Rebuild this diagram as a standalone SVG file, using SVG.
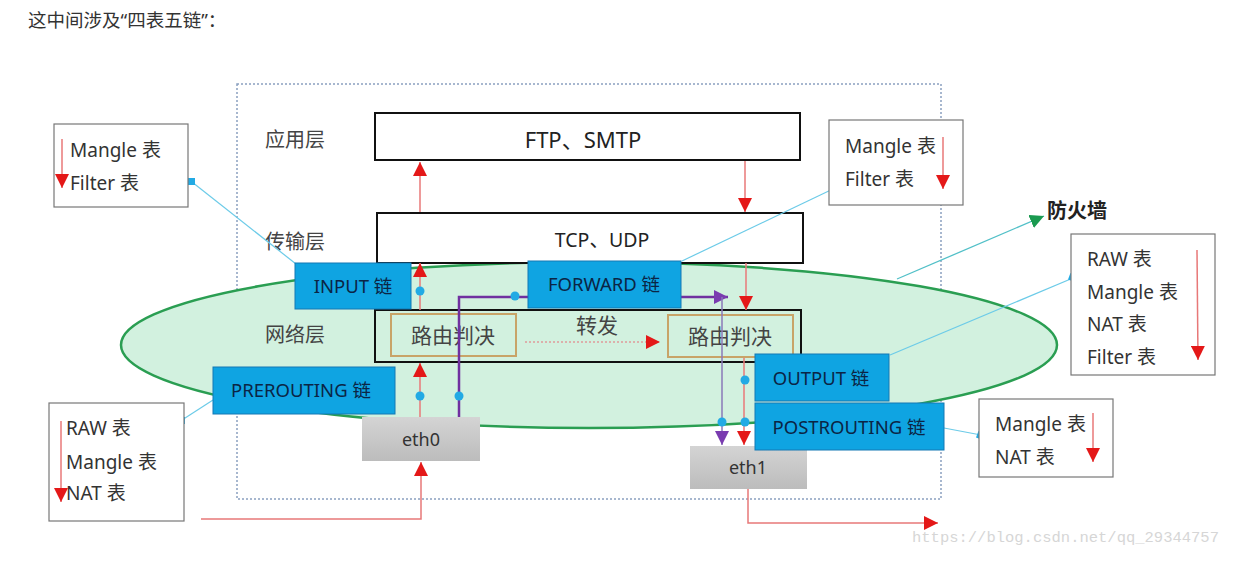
<svg xmlns="http://www.w3.org/2000/svg" width="1242" height="576" viewBox="0 0 1242 576">
<defs>
<style>
.t{font-family:"Noto Sans","Liberation Sans","Noto Sans CJK SC",sans-serif;fill:#333;font-size:19px}
.lay{font-family:"Noto Sans CJK SC","Noto Sans",sans-serif;fill:#444;font-size:20px}
.chain{fill:#0fa4e2;stroke:#1478b4;stroke-width:1}
.ct{font-family:"Noto Sans","Liberation Sans","Noto Sans CJK SC",sans-serif;fill:#0b2545;font-size:18.5px;text-anchor:middle}
.tbl{fill:#fff;stroke:#777;stroke-width:1.2}
.blk{fill:#fff;stroke:#111;stroke-width:2}
.route{fill:none;stroke:#c8a468;stroke-width:2}
.rt{font-family:"Noto Sans CJK SC",sans-serif;fill:#444;font-size:21px;text-anchor:middle}
.red{stroke:#e87878;stroke-width:1.5;fill:none}
.pur{stroke:#7030a0;stroke-width:2.5;fill:none}
.conn{stroke:#6ccbe8;stroke-width:1.2;fill:none}
.dot{fill:#22aae4}
.eth{fill:url(#g)}
</style>
<linearGradient id="g" x1="0" y1="0" x2="0" y2="1"><stop offset="0" stop-color="#d4d4d4"/><stop offset="1" stop-color="#bcbcbc"/></linearGradient>
<marker id="ar" markerUnits="userSpaceOnUse" markerWidth="14" markerHeight="14" viewBox="0 0 10 10" refX="10" refY="5" orient="auto"><path d="M0,0 L10,5 L0,10 z" fill="#e41818"/></marker>
<marker id="ap" markerUnits="userSpaceOnUse" markerWidth="14" markerHeight="14" viewBox="0 0 10 10" refX="10" refY="5" orient="auto"><path d="M0,0 L10,5 L0,10 z" fill="#7a3cb0"/></marker>
<marker id="ag" markerUnits="userSpaceOnUse" markerWidth="14" markerHeight="14" viewBox="0 0 10 10" refX="10" refY="5" orient="auto"><path d="M0,0 L10,5 L0,10 z" fill="#1a9a50"/></marker>
</defs>
<rect width="1242" height="576" fill="#fff"/>
<text x="28" y="27" style="font-family:'Noto Sans','Noto Sans CJK SC',sans-serif;font-size:18.5px;fill:#333">这中间涉及“四表五链”：</text>

<rect x="237" y="84" width="704" height="415" fill="none" stroke="#8aa0c0" stroke-width="1.5" stroke-dasharray="2,2"/>

<g id="firewall-ellipse"><ellipse cx="589" cy="345" rx="468" ry="83" fill="#d2f1df" stroke="#2a9e52" stroke-width="2.5"/></g>

<g id="layers">
<text x="265" y="147" class="lay">应用层</text>
<text x="265" y="249" class="lay">传输层</text>
<text x="265" y="342" class="lay">网络层</text>
</g>

<g id="ftp"><rect x="375" y="113" width="425" height="47" class="blk"/><text x="583" y="148" class="ct" style="fill:#222;font-size:22px">FTP、SMTP</text></g>
<g id="tcp"><rect x="377" y="213" width="426" height="50" class="blk"/><text x="602" y="247" class="ct" style="fill:#222;font-size:19.5px">TCP、UDP</text></g>
<g id="network"><rect x="375" y="310" width="426" height="52" fill="none" stroke="#111" stroke-width="2"/>
<text x="597" y="333" class="rt">转发</text></g>
<g id="route1"><rect x="391" y="314" width="125" height="42" class="route"/><text x="453" y="343" class="rt">路由判决</text></g>
<g id="route2"><rect x="668" y="315" width="125" height="42" class="route"/><text x="730" y="344" class="rt">路由判决</text></g>

<g id="eth0"><rect x="362" y="417" width="118" height="44" class="eth"/><text x="421" y="446" class="ct" style="fill:#333;font-size:18px">eth0</text></g>
<g id="eth1"><rect x="690" y="446" width="117" height="43" class="eth"/><text x="748" y="474" class="ct" style="fill:#333;font-size:18px">eth1</text></g>

<g id="connectors">
<line x1="525" y1="342" x2="660" y2="342" stroke="#e09a9a" stroke-width="1.3" stroke-dasharray="2,2" marker-end="url(#ar)"/>
<polyline points="201,519 421,519 421,462" class="red" marker-end="url(#ar)"/>
<line x1="420" y1="417" x2="420" y2="363" class="red" marker-end="url(#ar)"/>
<line x1="420" y1="310" x2="420" y2="263" class="red" marker-end="url(#ar)"/>
<line x1="420" y1="212" x2="420" y2="162" class="red" marker-end="url(#ar)"/>
<line x1="745" y1="161" x2="745" y2="212" class="red" marker-end="url(#ar)"/>
<line x1="746" y1="263" x2="746" y2="310" class="red" marker-end="url(#ar)"/>
<line x1="744" y1="358" x2="744" y2="445" class="red" marker-end="url(#ar)"/>
<polyline points="748,489 748,523 938,523" class="red" marker-end="url(#ar)"/>
<polyline points="459,417 459,297 728,297" class="pur" marker-end="url(#ap)"/>
<line x1="722" y1="297" x2="722" y2="445" stroke="#8a78b8" stroke-width="1.5" marker-end="url(#ap)"/>
<circle cx="420" cy="291" r="4.5" class="dot"/>
<circle cx="420" cy="396" r="4.5" class="dot"/>
<circle cx="459" cy="396" r="4.5" class="dot"/>
<circle cx="515" cy="296" r="4.5" class="dot"/>
<circle cx="745" cy="380" r="4.5" class="dot"/>
<circle cx="745" cy="422" r="4.5" class="dot"/>
<circle cx="722" cy="422" r="4.5" class="dot"/>
<line x1="192" y1="182" x2="296" y2="264" class="conn"/>
<rect x="188" y="178" width="7" height="7" fill="#22aae4"/>
<line x1="682" y1="261" x2="835" y2="188" class="conn"/>
<rect x="831" y="184" width="7" height="7" fill="#22aae4" transform="rotate(20 834.5 187.5)"/>
<line x1="890" y1="355" x2="1073" y2="278" class="conn"/>
<rect x="1069" y="274" width="7" height="7" fill="#22aae4" transform="rotate(20 1072.5 277.5)"/>
<line x1="213" y1="400" x2="182" y2="420" class="conn"/>
<rect x="178" y="417" width="7" height="7" fill="#22aae4"/>
<line x1="944" y1="428" x2="981" y2="435" class="conn"/>
<rect x="977" y="432" width="7" height="7" fill="#22aae4" transform="rotate(20 980.5 435.5)"/>
<line x1="897" y1="279" x2="1044" y2="216" stroke="#52c0c8" stroke-width="1.3" marker-end="url(#ag)"/>
</g>

<g id="input-chain"><rect x="295" y="263" width="116" height="46" class="chain"/><text x="353" y="293" class="ct">INPUT 链</text></g>
<g id="forward-chain"><rect x="528" y="261" width="153" height="47" class="chain"/><text x="604" y="291" class="ct">FORWARD 链</text></g>
<g id="prerouting-chain"><rect x="213" y="367" width="182" height="47" class="chain"/><text x="301" y="397" class="ct">PREROUTING 链</text></g>
<g id="output-chain"><rect x="755" y="354" width="134" height="47" class="chain"/><text x="821" y="385" class="ct">OUTPUT 链</text></g>
<g id="postrouting-chain"><rect x="755" y="403" width="189" height="47" class="chain"/><text x="849" y="434" class="ct">POSTROUTING 链</text></g>

<g id="table-input">
<rect x="54" y="124" width="134" height="83" class="tbl"/>
<text x="70" y="157" class="t">Mangle 表</text>
<text x="70" y="190" class="t">Filter 表</text>
<line x1="62" y1="139" x2="62" y2="188" class="red" marker-end="url(#ar)"/>
</g>
<g id="table-forward">
<rect x="829" y="120" width="134" height="85" class="tbl"/>
<text x="845" y="153" class="t">Mangle 表</text>
<text x="845" y="186" class="t">Filter 表</text>
<line x1="943" y1="137" x2="943" y2="189" class="red" marker-end="url(#ar)"/>
</g>
<g id="table-output">
<rect x="1071" y="234" width="144" height="141" class="tbl"/>
<text x="1087" y="266" class="t">RAW 表</text>
<text x="1087" y="299" class="t">Mangle 表</text>
<text x="1087" y="331" class="t">NAT 表</text>
<text x="1087" y="364" class="t">Filter 表</text>
<line x1="1197" y1="250" x2="1198" y2="360" class="red" marker-end="url(#ar)"/>
</g>
<g id="table-prerouting">
<rect x="49" y="403" width="135" height="118" class="tbl"/>
<text x="66" y="435" class="t">RAW 表</text>
<text x="66" y="469" class="t">Mangle 表</text>
<text x="66" y="500" class="t">NAT 表</text>
<line x1="61" y1="421" x2="61" y2="502" class="red" marker-end="url(#ar)"/>
</g>
<g id="table-postrouting">
<rect x="979" y="399" width="134" height="78" class="tbl"/>
<text x="995" y="431" class="t">Mangle 表</text>
<text x="995" y="464" class="t">NAT 表</text>
<line x1="1093" y1="413" x2="1093" y2="462" class="red" marker-end="url(#ar)"/>
</g>

<g id="firewall-label"><text x="1047" y="218" style="font-family:'Noto Sans CJK SC',sans-serif;font-size:20px;font-weight:bold;fill:#222">防火墙</text></g>

<text x="912" y="542" style="font-family:'Liberation Mono','DejaVu Sans Mono',monospace;font-size:15.5px;fill:#d6d6d6">https://blog.csdn.net/qq_29344757</text>
</svg>
